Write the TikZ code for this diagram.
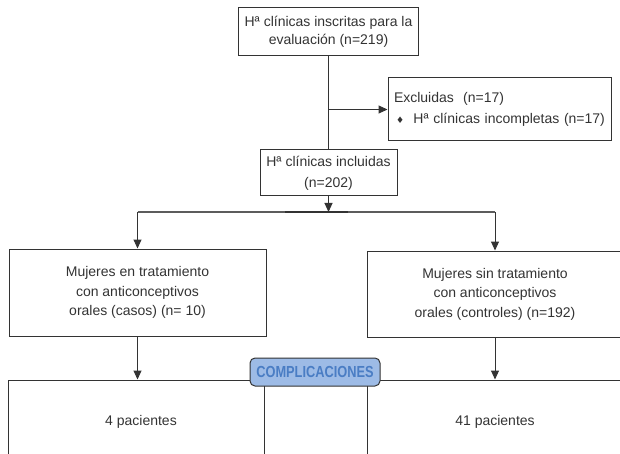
\documentclass[tikz,border=0pt]{standalone}
\usepackage{fontspec}
\setmainfont{Liberation Sans}
\newfontfamily\symf{DejaVu Sans}
\usetikzlibrary{arrows.meta}
\definecolor{ink}{HTML}{333333}
\definecolor{lbfill}{HTML}{9DBBE6}
\definecolor{lbtext}{HTML}{4A7DC4}
\tikzset{
  box/.style={draw=ink, line width=1pt, rectangle, inner sep=0pt, align=center, text=ink,
    font=\fontsize{14}{19.5}\selectfont},
  conn/.style={draw=ink, line width=1pt},
  arr/.style={conn, -{Triangle[length=9pt,width=8pt]}},
  tag/.style={draw=ink, line width=1pt, fill=lbfill, rounded corners=5pt, text=lbtext,
    minimum width=130pt, minimum height=28pt, inner sep=0pt,
    font=\fontsize{16}{18}\selectfont\bfseries}
}
\begin{document}
\begin{tikzpicture}[x=1pt,y=-1pt]
\useasboundingbox (0,0) rectangle (620,454);
\clip (0,0) rectangle (620,454);
\node[box, minimum width=180pt, minimum height=48pt, font=\fontsize{14}{18}\selectfont] (top) at (328.5,32) {Hª clínicas inscritas para la\\evaluación (n=219)};
\node[box, minimum width=223pt, minimum height=63pt, align=left, text width=211pt, inner xsep=6pt, font=\fontsize{14}{21}\selectfont] (excl) at (499.5,109.5) {Excluidas\ \ (n=17)\\\hspace*{2pt}{\symf\fontsize{9}{9}\selectfont ♦}\ \ Hª clínicas incompletas (n=17)};
\node[box, minimum width=137pt, minimum height=46pt, font=\fontsize{14}{21}\selectfont] (incl) at (328.5,173) {Hª clínicas incluidas\\(n=202)};
\node[box, minimum width=257pt, minimum height=87pt] (casos) at (137.5,292.5) {Mujeres en tratamiento\\con anticonceptivos\\orales (casos) (n= 10)};
\node[box, minimum width=256pt, minimum height=86pt] (ctrl) at (495,294) {Mujeres sin tratamiento\\con anticonceptivos\\orales (controles) (n=192)};
\node[box, minimum width=256pt, minimum height=84pt] (res1) at (136,422) {\hspace*{10pt}4 pacientes};
\node[box, minimum width=256pt, minimum height=84pt] (res2) at (495,422) {41 pacientes};
\coordinate (split) at (328.5,212);
\draw[conn] (top.south) -- (incl.north);
\draw[arr] (top.south |- excl.west) -- (excl.west);
\draw[arr] (incl.south) -- (split);
\draw[conn, draw=ink!80] (casos.north |- split) -- (ctrl.north |- split);
\draw[conn, line width=1.8pt] (285,212) -- (348,212);
\draw[arr] (casos.north |- split) -- (casos.north);
\draw[arr] (ctrl.north |- split) -- (ctrl.north);
\draw[arr] (casos.south) -- (casos.south |- res1.north);
\draw[arr] (ctrl.south) -- (ctrl.south |- res2.north);
\node[tag] (comp) at (315,372) {\scalebox{0.8}[1]{COMPLICACIONES}};
\end{tikzpicture}
\end{document}
